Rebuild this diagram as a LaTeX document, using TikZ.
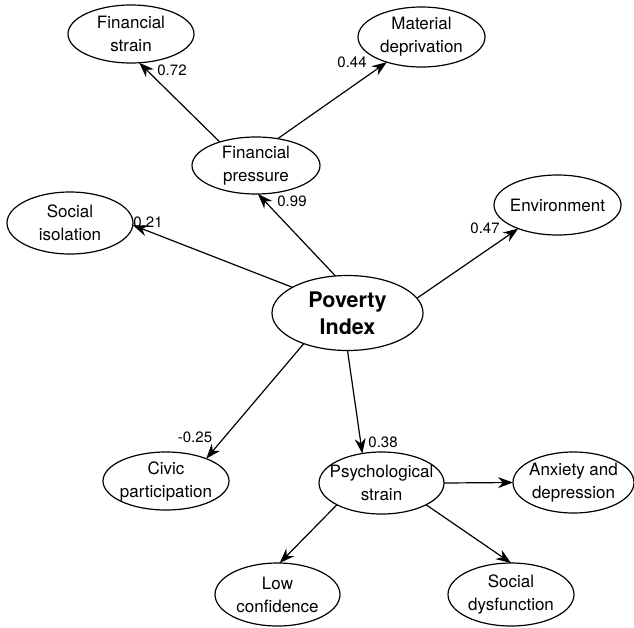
\documentclass[tikz,border=0pt]{standalone}
\usepackage{fontspec}
\setmainfont{TeX Gyre Heros}
\usetikzlibrary{shapes.geometric,arrows.meta}
\begin{document}
\begin{tikzpicture}[x=1pt,y=-1pt,
 ell/.style={draw,ellipse,line width=1.2pt,inner xsep=-16pt,inner ysep=-6pt,outer sep=0pt,align=center,font=\fontsize{17}{23}\selectfont},
 lab/.style={inner sep=0pt,font=\fontsize{15}{18}\selectfont},
 arr/.style={line width=1.2pt,-{Stealth[length=15pt,width=11pt]}}]
\useasboundingbox (0,0) rectangle (634,627);
\node[ell,minimum width=126pt,minimum height=58pt] (fs) at (131,34) {Financial\\strain};
\node[ell,minimum width=127pt,minimum height=60pt] (md) at (421.5,37) {Material\\deprivation};
\node[ell,minimum width=128pt,minimum height=57pt] (fp) at (256,165.5) {Financial\\pressure};
\node[ell,minimum width=126pt,minimum height=62pt] (si) at (70,223) {Social\\isolation};
\node[ell,minimum width=127pt,minimum height=60pt] (env) at (557.5,205) {Environment};
\node[ell,minimum width=151pt,minimum height=75pt,font=\fontsize{21.5}{27}\selectfont\bfseries] (pov) at (347.5,313) {Poverty\\Index};
\node[ell,minimum width=126pt,minimum height=58pt] (civ) at (166,481) {Civic\\participation};
\node[ell,minimum width=125pt,minimum height=62pt] (ps) at (381.5,483) {Psychological\\strain};
\node[ell,minimum width=121pt,minimum height=61pt] (anx) at (573.5,482.5) {Anxiety and\\depression};
\node[ell,minimum width=125pt,minimum height=63pt] (lc) at (277.5,594.5) {Low\\confidence};
\node[ell,minimum width=126pt,minimum height=63pt] (sd) at (511,594.5) {Social\\dysfunction};

\draw[arr] (fp.147) -- (fs.-74);
\draw[arr] (fp.51) -- (md.216);
\draw[arr] (pov.108) -- (fp.-86);
\draw[arr] (pov.155) -- (si.-2);
\draw[arr] (pov.12) -- (env.211);
\draw[arr] (pov.215) -- (civ.29.5);
\draw[arr] (pov.-90) -- (ps.123);
\draw[arr] (ps.0) -- (anx.180);
\draw[arr] (ps.206) -- (lc.86);
\draw[arr] (ps.-26) -- (sd.90);

\node[lab] (l072) at (172,70) {0.72};
\node[lab] (l044) at (352,62) {0.44};
\node[lab] (l099) at (292,201) {0.99};
\node[lab] (l021) at (148,222) {0.21};
\node[lab] (l047) at (485,228) {0.47};
\node[lab] (l025) at (195,437) {-0.25};
\node[lab] (l038) at (383,442) {0.38};
\end{tikzpicture}
\end{document}
